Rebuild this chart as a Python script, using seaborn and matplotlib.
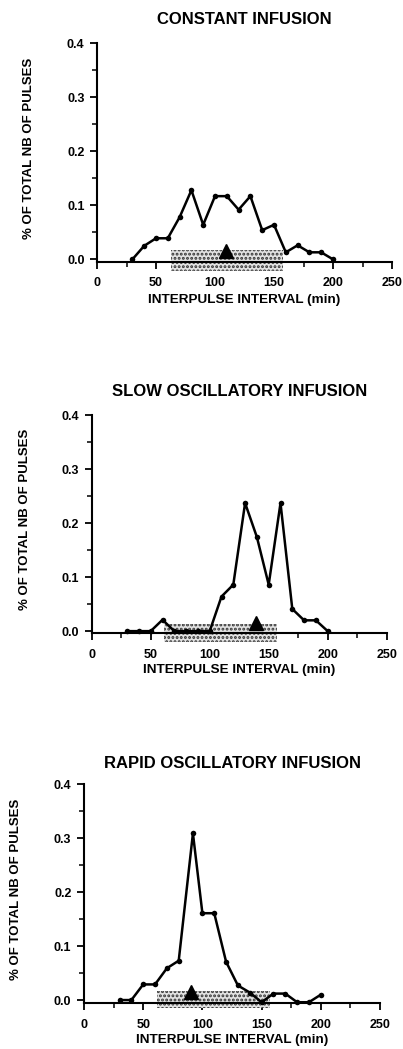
import numpy as np
import matplotlib
matplotlib.use("Agg")
import matplotlib.pyplot as plt
from matplotlib.ticker import MultipleLocator, FormatStrFormatter
import seaborn as sns

sns.set_style("ticks")
plt.rcParams['font.family'] = ['Liberation Sans', 'DejaVu Sans']
plt.rcParams['font.weight'] = 'bold'
plt.rcParams['hatch.linewidth'] = 1.4
plt.rcParams['text.color'] = 'black'
plt.rcParams['axes.labelcolor'] = 'black'
plt.rcParams['xtick.color'] = 'black'
plt.rcParams['ytick.color'] = 'black'

# ---- data ----
titles = ["CONSTANT INFUSION", "SLOW OSCILLATORY INFUSION", "RAPID OSCILLATORY INFUSION"]

x_constant = [30, 40, 50, 60, 70, 80, 90, 100, 110, 120, 130, 140, 150, 160, 170, 180, 190, 200]
y_constant = [0.0, 0.025, 0.039, 0.039, 0.078, 0.128, 0.064, 0.117, 0.117, 0.092, 0.117,
              0.054, 0.064, 0.013, 0.026, 0.013, 0.013, 0.0]

x_slow = [30, 40, 50, 60, 70, 80, 90, 100, 110, 120, 130, 140, 150, 160, 170, 180, 190, 200]
y_slow = [0.0, 0.0, 0.0, 0.021, 0.0, 0.0, 0.0, 0.0, 0.064, 0.086, 0.237, 0.174, 0.086,
          0.237, 0.041, 0.020, 0.020, 0.0]

x_rapid = [30, 40, 50, 60, 70, 80, 92, 100, 110, 120, 130, 140, 150, 160, 170, 180, 190, 200]
y_rapid = [0.0, 0.0, 0.029, 0.029, 0.059, 0.073, 0.309, 0.161, 0.161, 0.071, 0.027,
           0.014, -0.004, 0.012, 0.012, -0.004, -0.004, 0.010]

# mean interpulse interval (triangle) and shaded range
mean_x = [109, 139, 90]
mean_y = [0.0155, 0.0155, 0.0155]
band_x = [[62.5, 158], [61, 157], [62, 157]]
band_lo = [-0.022, -0.020, -0.014]
band_hi = [0.017, 0.013, 0.016]

series_x = [x_constant, x_slow, x_rapid]
series_y = [y_constant, y_slow, y_rapid]

x_ticks = [0, 50, 100, 150, 200, 250]
y_ticks = [0.0, 0.1, 0.2, 0.3, 0.4]

# ---- layout (figure fractions) ----
W, H = 403, 1049
axes_px = [  # left, spine_y, right, top_y
    (97, 261.5, 392, 43.3),
    (91.7, 633.3, 386.7, 415),
    (84, 1003.3, 380, 784.3),
]
ymins = [-0.004, -0.004, -0.006]
ylab_x = [-0.23, -0.226, -0.23]
xlab_y = [-0.177, -0.168, -0.168]
title_pad = [14, 14, 12]

fig = plt.figure(figsize=(W / 100, H / 100), dpi=100)

for i in range(3):
    l, b, r, t = axes_px[i]
    ax = fig.add_axes([l / W, 1 - b / H, (r - l) / W, (b - t) / H])

    # shaded band (range)
    ax.fill_between(band_x[i], [band_lo[i]] * 2, [band_hi[i]] * 2,
                    facecolor='#e2e2e2', edgecolor='#333333', hatch='....',
                    linewidth=0, zorder=1, clip_on=False)

    sns.lineplot(x=series_x[i], y=series_y[i], ax=ax, color='black',
                 linewidth=1.8, marker='o', markersize=4, markeredgewidth=0,
                 zorder=3, clip_on=False)

    ax.plot([mean_x[i]], [mean_y[i]], marker='^', markersize=9.5, color='black',
            linestyle='none', zorder=4, clip_on=False)

    ax.set_xlim(0, 250)
    ax.set_ylim(ymins[i], 0.4)
    ax.set_xticks(x_ticks)
    ax.set_yticks(y_ticks)
    ax.xaxis.set_minor_locator(MultipleLocator(25))
    ax.yaxis.set_minor_locator(MultipleLocator(0.05))
    ax.yaxis.set_major_formatter(FormatStrFormatter('%.1f'))
    ax.tick_params(axis='both', which='major', length=5, width=1.3,
                   labelsize=9, color='black', labelcolor='black')
    ax.tick_params(axis='x', which='major', pad=6)
    ax.tick_params(axis='y', which='major', pad=4)
    ax.tick_params(axis='both', which='minor', length=3.5, width=1.1, color='black')
    for lab in ax.get_xticklabels() + ax.get_yticklabels():
        lab.set_fontweight('bold')

    for s in ['top', 'right']:
        ax.spines[s].set_visible(False)
    for s in ['left', 'bottom']:
        ax.spines[s].set_linewidth(1.5)
        ax.spines[s].set_color('black')

    ax.set_title(titles[i], fontsize=12, fontweight='bold', pad=title_pad[i], color='black')
    ax.set_xlabel("INTERPULSE INTERVAL (min)", fontsize=9.7, fontweight='bold')
    ax.set_ylabel("% OF TOTAL NB OF PULSES", fontsize=9.5, fontweight='bold')
    ax.xaxis.set_label_coords(0.5, xlab_y[i])
    ax.xaxis.label.set_va('center')
    ax.yaxis.set_label_coords(ylab_x[i], 0.52)
    ax.yaxis.label.set_va('center')

fig.savefig("out.png", dpi=100)
